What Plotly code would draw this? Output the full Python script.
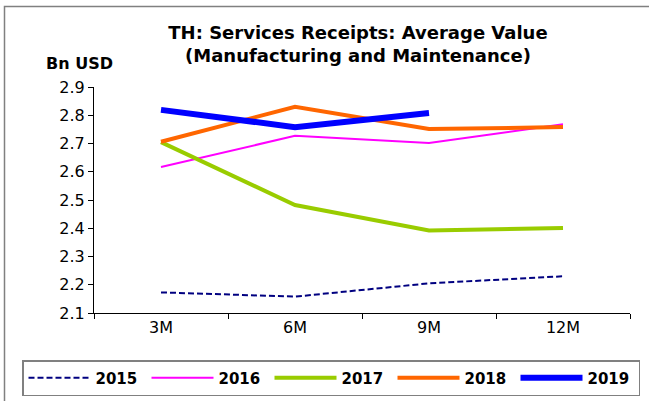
import plotly.graph_objects as go

# Survey periods (cumulative months) and average receipts, Bn USD
periods = ["3M", "6M", "9M", "12M"]
years = ["2015", "2016", "2017", "2018", "2019"]
values_2015 = [2.173, 2.158, 2.205, 2.230]
values_2016 = [2.617, 2.727, 2.702, 2.768]
values_2017 = [2.705, 2.482, 2.392, 2.401]
values_2018 = [2.706, 2.830, 2.751, 2.758]
values_2019 = [2.819, 2.758, 2.808, None]
y_ticks = [2.1, 2.2, 2.3, 2.4, 2.5, 2.6, 2.7, 2.8, 2.9]

series = [values_2015, values_2016, values_2017, values_2018, values_2019]
colors = ["#000080", "#FF00FF", "#99CC00", "#FF6600", "#0000FF"]
widths = [2, 2, 4, 4, 6]
dashes = ["6px,3px", "solid", "solid", "solid", "solid"]

FONT = "DejaVu Sans, Arial, sans-serif"
W, H = 649, 401
L, R, T, B = 94, 19, 87, 88

fig = go.Figure()
for name, vals, c, w, d in zip(years, series, colors, widths, dashes):
    fig.add_trace(go.Scatter(
        x=periods, y=vals, name=name, mode="lines",
        line=dict(color=c, width=w, dash=d),
        connectgaps=False,
    ))

# pixel -> paper coordinate helpers
pw, ph = W - L - R, H - T - B
def px_x(p):
    return (p - L) / pw
def px_y(p):
    return (H - B - p) / ph

# outer frame of the chart area (left and top edges)
fig.add_shape(type="rect", xref="paper", yref="paper",
              x0=px_x(4.5), x1=px_x(660), y0=px_y(410), y1=px_y(6.5),
              line=dict(color="#808080", width=1.5), fillcolor="rgba(0,0,0,0)",
              layer="below")

fig.update_layout(
    width=W, height=H,
    margin=dict(l=L, r=R, t=T, b=B, autoexpand=False),
    paper_bgcolor="white", plot_bgcolor="white",
    font=dict(family=FONT, color="#000000", size=16),
    title=dict(
        text="TH: Services Receipts: Average Value<br>(Manufacturing and Maintenance)",
        x=358 / W, xanchor="center", xref="container",
        y=1 - 39 / H, yanchor="top", yref="container",
        font=dict(size=18, family=FONT, color="#000000", weight="bold"),
    ),
    showlegend=True,
    legend=dict(
        orientation="h",
        xref="paper", yref="paper",
        x=px_x(22), xanchor="left",
        y=px_y(360), yanchor="top",
        bordercolor="#808080", borderwidth=1.5,
        bgcolor="white",
        font=dict(size=15, family=FONT, color="#000000", weight="bold"),
        itemwidth=62,
        entrywidth=46, entrywidthmode="pixels",
        tracegroupgap=0,
    ),
    xaxis=dict(
        type="category", range=[-0.5, 3.5],
        showline=True, linecolor="#000000", linewidth=1,
        ticks="outside", ticklen=5, tickcolor="#000000",
        tickson="boundaries",
        showgrid=False, zeroline=False,
        tickfont=dict(size=16),
    ),
    yaxis=dict(
        range=[2.1, 2.9], tickvals=y_ticks,
        tickformat=".1f",
        showline=True, linecolor="#000000", linewidth=1,
        ticks="outside", ticklen=5, tickcolor="#000000",
        showgrid=False, zeroline=False,
        tickfont=dict(size=16),
    ),
    annotations=[dict(
        text="Bn USD", xref="paper", yref="paper",
        x=px_x(44), y=px_y(63), xanchor="left", yanchor="middle",
        showarrow=False,
        font=dict(size=16, family=FONT, color="#000000", weight="bold"),
    )],
)

fig.write_html("out.html")
